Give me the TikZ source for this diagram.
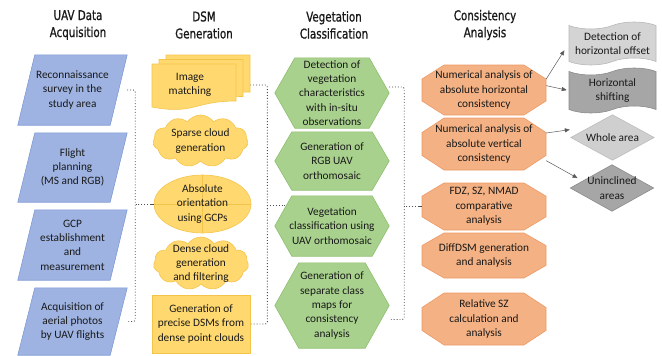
\documentclass[tikz,border=0pt]{standalone}
\usepackage{fontspec}
\setmainfont{Carlito}
\newfontfamily\titlefont[FakeStretch=0.85,FakeBold=0.9]{DejaVu Sans Condensed}
\usetikzlibrary{shapes.geometric,shapes.symbols,backgrounds,arrows.meta,calc}
\definecolor{bluef}{HTML}{9EB3E1}
\definecolor{blued}{HTML}{7F9BD5}
\definecolor{yelf}{HTML}{FFD970}
\definecolor{yeld}{HTML}{F4C44A}
\definecolor{grnf}{HTML}{A9D18E}
\definecolor{grnd}{HTML}{8DBF6E}
\definecolor{orgf}{HTML}{F4B183}
\definecolor{orgd}{HTML}{EE9A66}
\definecolor{gra}{HTML}{D4D4D4}
\definecolor{grad}{HTML}{B8B8B8}
\definecolor{grb}{HTML}{A6A6A6}
\definecolor{grbd}{HTML}{8C8C8C}
\definecolor{grc}{HTML}{CFCFCF}
\definecolor{grcd}{HTML}{BDBDBD}
\definecolor{lnk}{HTML}{4D4D4D}
\begin{document}
\begin{tikzpicture}[x=1pt,y=-1pt,
  every node/.style={inner sep=0pt, align=center, text=black!90},
  txt/.style={font=\fontsize{11.3}{14.3}\selectfont},
  ttl/.style={font=\titlefont\fontsize{13.5}{17}\selectfont, text=black!90},
  bsh/.style={fill=bluef, draw=blued, line width=0.6pt},
  ysh/.style={fill=yelf, draw=yeld, line width=0.6pt},
  ybord/.style={draw=yeld, line width=0.6pt},
  gsh/.style={fill=grnf, draw=grnd, line width=0.6pt},
  osh/.style={fill=orgf, draw=orgd, line width=0.6pt},
  cloudsh/.style={cloud, cloud puffs=11, cloud puff arc=110, aspect=1.8, minimum width=95pt, minimum height=52pt, inner sep=0pt, ysh},
  octa/.style={txt, minimum width=124},
  tapesh/.style={txt, tape, tape bend top=in and out, tape bend bottom=in and out, tape bend height=7pt, minimum width=87pt, line width=0.6pt},
  brk/.style={dotted, line width=0.9pt, draw=lnk, rounded corners=2pt},
  arr/.style={-{Triangle[length=5pt,width=4pt]}, line width=0.5pt, draw=gray!70!black},
]
\useasboundingbox (0,0) rectangle (662,356);

% titles
\node[ttl] (t1) at (78,25) {UAV Data\\Acquisition};
\node[ttl] (t2) at (204,25) {DSM\\Generation};
\node[ttl] (t3) at (334,25) {Vegetation\\Classification};
\node[ttl] (t4) at (485,25) {Consistency\\Analysis};

% column 1
\node[txt, minimum width=109, minimum height=70] (p1) at (72.5,90) {Reconnaissance\\survey in the\\study area};
\node[txt, minimum width=109, minimum height=69] (p2) at (72.5,167.5) {Flight\\planning\\(MS and RGB)};
\node[txt, minimum width=109, minimum height=70] (p3) at (72.5,245) {GCP\\establishment\\and\\measurement};
\node[txt, minimum width=109, minimum height=67] (p4) at (72.5,321.5) {Acquisition of\\aerial photos\\by UAV flights};

% column 2
\node[txt] (m1) at (190,85) {Image\\matching};
\node[txt, minimum width=95, minimum height=52] (s1) at (200.5,141) {Sparse cloud\\generation};
\node[txt, minimum width=97, minimum height=58] (e1) at (202.5,204) {Absolute\\orientation\\using GCPs};
\node[txt, minimum width=95, minimum height=53] (c2) at (201,263.5) {Dense cloud\\generation\\and filtering};
\node[txt, ysh, minimum width=98, minimum height=58] (r1) at (201,324) {Generation of\\precise DSMs from\\dense point clouds};

% column 3
\node[txt, minimum width=114, minimum height=70] (h1) at (332,93) {Detection of\\vegetation\\characteristics\\with in-situ\\observations};
\node[txt, minimum width=114, minimum height=58] (h2) at (332,161) {Generation of\\RGB UAV\\orthomosaic};
\node[txt, minimum width=114, minimum height=60] (h3) at (332,226) {Vegetation\\classification using\\UAV orthomosaic};
\node[txt, minimum width=114, minimum height=85] (h4) at (332,305.5) {Generation of\\separate class\\maps for\\consistency\\analysis};

% column 4
\node[octa, minimum height=50] (o1) at (484,90) {Numerical analysis of\\absolute horizontal\\consistency};
\node[octa, minimum height=52] (o2) at (484,144) {Numerical analysis of\\absolute vertical\\consistency};
\node[octa, minimum height=47] (o3) at (484,206.5) {FDZ, SZ, NMAD\\comparative\\analysis};
\node[octa, minimum height=45] (o4) at (484,255.5) {DiffDSM generation\\and analysis};
\node[octa, minimum height=52] (o5) at (484,319) {Relative SZ\\calculation and\\analysis};

% column 5
\node[tapesh, fill=gra, draw=grad, minimum height=43] (tp1) at (612.5,43.5) {Detection of\\horizontal offset};
\node[tapesh, fill=grb, draw=grbd, minimum height=45] (tp2) at (612.5,90.5) {Horizontal\\shifting};
\node[txt, minimum width=83, minimum height=45] (d1) at (612.5,137.5) {Whole area};
\node[txt, minimum width=83, minimum height=46] (d2) at (612,188) {Uninclined\\areas};

% shapes behind the texts
\begin{scope}[on background layer]
  \foreach \n in {p1,p2,p3,p4}{
    \filldraw[bsh] ([xshift=17]\n.north west) -- (\n.north east) -- ([xshift=-17]\n.south east) -- (\n.south west) -- cycle;}
  \foreach \dx/\dy in {14/-9,7/-4.5,0/0}{
    \filldraw[ysh, shift={(\dx,\dy)}] (152,64) -- (236,64) -- (236,101) .. controls (194,101) and (194,115) .. (152,107) -- cycle;}
  \node[cloudsh] (s1bg) at (s1) {};
  \node[cloudsh, minimum height=53pt] (c2bg) at (c2) {};
  \filldraw[ysh] (e1.center) ellipse [x radius=48.5, y radius=29];
  \draw[ybord] (e1.north) -- (e1.south) (e1.west) -- (e1.east);
  \foreach \n/\i in {h1/20,h2/17,h3/17,h4/24}{
    \filldraw[gsh] (\n.west) -- ([xshift=\i]\n.north west) -- ([xshift=-\i]\n.north east) -- (\n.east) -- ([xshift=-\i]\n.south east) -- ([xshift=\i]\n.south west) -- cycle;}
  \foreach \n/\h in {o1/50,o2/52,o3/47,o4/45,o5/52}{
    \filldraw[osh, shift={(\n.center)}] (-40,-\h/2) -- (40,-\h/2) -- (62,-0.22*\h) -- (62,0.22*\h) -- (40,\h/2) -- (-40,\h/2) -- (-62,0.22*\h) -- (-62,-0.22*\h) -- cycle;}
  \filldraw[fill=grc, draw=grcd, line width=0.6pt] (d1.west) -- (d1.north) -- (d1.east) -- (d1.south) -- cycle;
  \filldraw[fill=grb, draw=grbd, line width=0.6pt] (d2.west) -- (d2.north) -- (d2.east) -- (d2.south) -- cycle;
\end{scope}

% brackets
\draw[brk] (p1.east) -- ++(8,0) |- (p4.east);
\draw[brk] (e1.west) -- ++(-19,0);
\draw[line width=0.8pt, draw=lnk] (e1.west) -- ++(-4,0);

\draw[brk] (m1 -| r1.east) -- ++(17,0) |- (r1.east);
\coordinate (b2) at (267,205);
\draw[brk] (b2) -- ++(20,0);

\draw[brk] ([yshift=6]h1.east) -- ++(15,0) |- ([yshift=-14]h4.east);
\draw[brk] (o3.west) -- ++(-19,0);
\draw[line width=0.8pt, draw=lnk] (o3.west) -- ++(-4,0);

% arrows
\draw[arr, shorten >=8pt] (o1.10) -- (tp1.west);
\draw[arr, shorten >=2pt] (o1.4) -- (tp2.west);
\draw[arr, shorten >=1pt] (o2.10) -- ([yshift=8]d1.west);
\draw[arr, shorten >=6pt] (o2.-15) -- ($(d2.west)!0.3!(d2.north)$);
\end{tikzpicture}
\end{document}
